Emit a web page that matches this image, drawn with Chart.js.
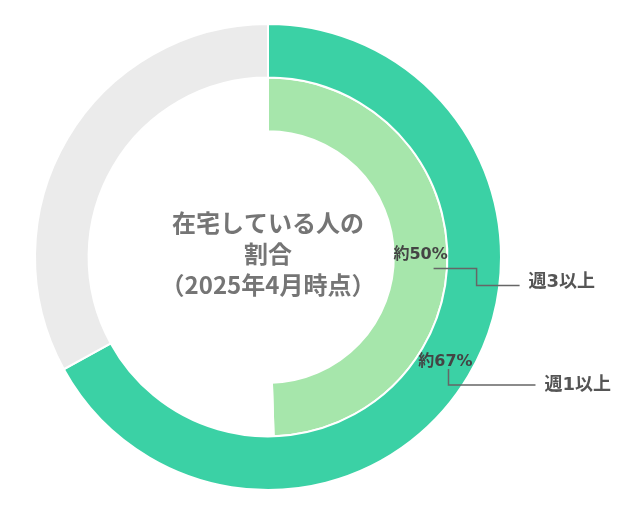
<!DOCTYPE html>
<html lang="ja">
<head>
<meta charset="utf-8">
<script src="https://cdn.jsdelivr.net/npm/chart.js@4"></script>
<style>
    html, body { margin: 0; padding: 0; background: #fff; }
    .wrap { width: 638px; height: 519px; }
</style>
</head>
<body>
<div class="wrap"><canvas id="myChart" width="638" height="519"></canvas></div>
<script>
// outer ring = 週1以上, inner ring = 週3以上
const ringLabels = ['週1以上', '週3以上'];
const shareValues = [67, 49.5];
const pctLabels = ['約67%', '約50%'];
const centerLines = ['在宅している人の', '割合', '（2025年4月時点）'];

const FONT = '"Noto Sans CJK JP", "Noto Sans", sans-serif';
const LABEL_FONT = '"DejaVu Sans", "Noto Sans CJK JP", sans-serif';

const centerText = {
    id: 'centerText',
    afterDraw(chart) {
        const ctx = chart.ctx;
        const arc = chart.getDatasetMeta(0).data[0];
        ctx.save();
        ctx.font = 'bold 24px ' + FONT;
        ctx.fillStyle = '#757575';
        ctx.textAlign = 'center';
        ctx.textBaseline = 'middle';
        const lineH = 31;
        const y0 = arc.y - 3 - lineH;
        for (let i = 0; i < centerLines.length; i++)
            ctx.fillText(centerLines[i], arc.x, y0 + i * lineH);
        ctx.restore();
    }
};

// leader line shapes, relative to arc midpoint
const leaders = [
    { pts: [[3, 7], [3, 23], [90, 23]], text: [99, 23] },
    { pts: [[13, 14], [56, 14], [56, 31], [99, 31]], text: [108, 28] }
];

const arcLabels = {
    id: 'arcLabels',
    afterDraw(chart) {
        const ctx = chart.ctx;
        ctx.save();
        for (let d = 0; d < 2; d++) {
            const arc = chart.getDatasetMeta(d).data[0];
            const a = (arc.startAngle + arc.endAngle) / 2;
            const r = (arc.innerRadius + arc.outerRadius) / 2;
            const px = arc.x + Math.cos(a) * r;
            const py = arc.y + Math.sin(a) * r;

            ctx.font = 'bold 16px ' + LABEL_FONT;
            ctx.fillStyle = '#444';
            ctx.textAlign = 'center';
            ctx.textBaseline = 'middle';
            ctx.fillText(pctLabels[d], px, py);

            const l = leaders[d];
            ctx.strokeStyle = '#666';
            ctx.lineWidth = 1.5;
            ctx.beginPath();
            ctx.moveTo(px + l.pts[0][0], py + l.pts[0][1]);
            for (let i = 1; i < l.pts.length; i++)
                ctx.lineTo(px + l.pts[i][0], py + l.pts[i][1]);
            ctx.stroke();

            ctx.font = 'bold 18px ' + LABEL_FONT;
            ctx.fillStyle = '#555';
            ctx.textAlign = 'left';
            ctx.fillText(ringLabels[d], px + l.text[0], py + l.text[1]);
        }
        ctx.restore();
    }
};

const ctx = document.getElementById('myChart');

new Chart(ctx, {
    type: 'doughnut',
    data: {
        labels: ['該当', 'その他'],
        datasets: [
            {
                label: ringLabels[0],
                data: [shareValues[0], 100 - shareValues[0]],
                backgroundColor: ['#3bd1a5', '#ebebeb'],
                borderColor: '#ffffff',
                borderWidth: 2
            },
            {
                label: ringLabels[1],
                data: [shareValues[1], 100 - shareValues[1]],
                backgroundColor: ['#a6e6ab', '#ffffff'],
                borderColor: '#ffffff',
                borderWidth: 2
            }
        ]
    },
    options: {
        responsive: false,
        animation: false,
        cutout: '54%',
        layout: { padding: { left: 0, right: 102, top: 23, bottom: 28 } },
        plugins: {
            legend: { display: false },
            tooltip: { enabled: false }
        }
    },
    plugins: [centerText, arcLabels]
});
</script>
</body>
</html>
